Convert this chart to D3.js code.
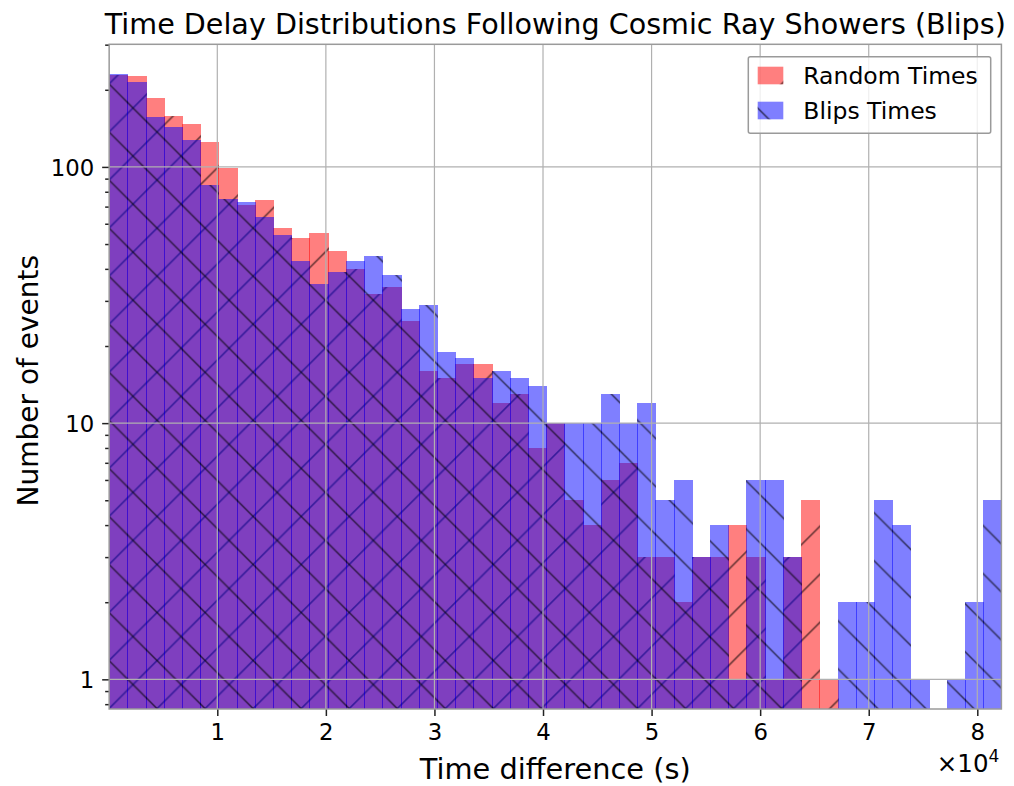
<!DOCTYPE html>
<html><head><meta charset="utf-8">
<script src="https://cdn.jsdelivr.net/npm/d3@7"></script>
<style>body{margin:0;background:#fff} svg{display:block} text{font-family:"DejaVu Sans",sans-serif;fill:#000}</style>
</head><body>
<svg id="chart" width="1014" height="786"></svg>
<script>
// ---------- data ----------
const seriesNames = ["Random Times", "Blips Times"];
const seriesColors = ["#ff0000", "#0000ff"];
const randomCounts = [228,226,186,158,147,125,99,71,74,58,53,55,47,40,32,34,25,16,15,17,17,12,13,8,10,5,4,6,7,3,3,2,3,3,4,3,1,3,5,1,0,0,0,0,0,0,0,0,0];
const blipsCounts  = [230,214,157,143,127,85,75,73,64,54,43,35,39,43,45,38,28,29,19,18,15,16,15,14,10,10,10,13,10,12,5,6,3,4,1,6,6,3,0,0,2,2,5,4,1,0,1,2,5];
const binRange = [40, 82220];
const nBins = 49;
const xTickValues = [10000,20000,30000,40000,50000,60000,70000,80000];
const xTickLabels = ["1","2","3","4","5","6","7","8"];
const yTickValues = [1,10,100];
const yTickLabels = ["1","10","100"];
const yMinorTicks = [0.8,0.9,2,3,4,5,6,7,8,9,20,30,40,50,60,70,80,90,200,300];
const yDomain = [0.766, 301];
const titleText = "Time Delay Distributions Following Cosmic Ray Showers (Blips)";
const xLabelText = "Time difference (s)";
const yLabelText = "Number of events";

// ---------- layout ----------
const plot = {left:109.16, right:1001.4, top:44.3, bottom:709};
const svg = d3.select("#chart");
const x = d3.scaleLinear().domain(binRange).range([plot.left, plot.right]);
const y = d3.scaleLog().domain(yDomain).range([plot.bottom, plot.top]);
const binW = (binRange[1]-binRange[0])/nBins;
const edges = d3.range(nBins+1).map(i => binRange[0] + i*binW);

const defs = svg.append("defs");
defs.append("clipPath").attr("id","plotclip").append("rect")
  .attr("x",plot.left).attr("y",plot.top).attr("width",plot.right-plot.left).attr("height",plot.bottom-plot.top);

const P = 48.05;
function hatch(id, dir, c){
  const p = defs.append("pattern").attr("id",id).attr("patternUnits","userSpaceOnUse")
    .attr("x",0).attr("y",0).attr("width",P).attr("height",P);
  for(let k=-2;k<=2;k++){
    const l = p.append("line");
    if(dir==="back") l.attr("x1",-3).attr("y1",-3+c+k*P).attr("x2",P+3).attr("y2",P+3+c+k*P);
    else l.attr("x1",-3).attr("y1",3+c+k*P).attr("x2",P+3).attr("y2",-P-3+c+k*P);
    l.attr("stroke","#000").attr("stroke-opacity",0.55).attr("stroke-width",1.7);
  }
}
hatch("hatchFwd","fwd",0.8);
hatch("hatchBack","back",23);
const hatchIds = ["hatchFwd","hatchBack"];

// ---------- bars ----------
const barsG = svg.append("g").attr("clip-path","url(#plotclip)");
[randomCounts, blipsCounts].forEach((counts, si) => {
  const g = barsG.append("g");
  const data = counts.map((c,i)=>({c, x0:edges[i], x1:edges[i+1]})).filter(d=>d.c>0);
  data.forEach(d => {
    const xa = Math.round(x(d.x0)), xb = Math.round(x(d.x1));
    const yt = Math.round(y(d.c));
    const r = {x:xa, y:yt, w:xb-xa+1, h:plot.bottom+2-yt};
    g.append("rect").attr("x",r.x).attr("y",r.y).attr("width",r.w).attr("height",r.h)
      .attr("fill",seriesColors[si]).attr("fill-opacity",0.5).attr("shape-rendering","crispEdges");
    g.append("rect").attr("x",r.x).attr("y",r.y).attr("width",r.w).attr("height",r.h)
      .attr("fill",`url(#${hatchIds[si]})`).attr("shape-rendering","crispEdges");
  });
});

// ---------- grid ----------
const gridG = svg.append("g");
xTickValues.forEach(v => gridG.append("line").attr("x1",x(v)).attr("x2",x(v)).attr("y1",plot.top).attr("y2",plot.bottom)
  .attr("stroke","#b0b0b0").attr("stroke-width",1.2));
yTickValues.forEach(v => gridG.append("line").attr("y1",y(v)).attr("y2",y(v)).attr("x1",plot.left).attr("x2",plot.right)
  .attr("stroke","#b0b0b0").attr("stroke-width",1.2));

// ---------- axes ----------
const xAxis = d3.axisBottom(x).tickValues(xTickValues).tickFormat((d,i)=>xTickLabels[i]).tickSize(7).tickPadding(8);
const xg = svg.append("g").attr("transform",`translate(0,${plot.bottom})`).call(xAxis);
const yAxis = d3.axisLeft(y).tickValues(yTickValues).tickFormat((d,i)=>yTickLabels[i]).tickSize(7).tickPadding(8);
const yg = svg.append("g").attr("transform",`translate(${plot.left},0)`).call(yAxis);
const yMinor = d3.axisLeft(y).tickValues(yMinorTicks).tickFormat("").tickSize(4);
const ymg = svg.append("g").attr("transform",`translate(${plot.left},0)`).call(yMinor);
[xg,yg,ymg].forEach(g=>{
  g.select(".domain").remove();
  g.selectAll(".tick line").attr("stroke","#222").attr("stroke-width",1.5);
  g.selectAll(".tick text").attr("font-size",22.8).attr("font-family","DejaVu Sans").attr("fill","#000");
});
xg.selectAll(".tick text").attr("dy","0.72em");
yg.selectAll(".tick text").attr("dy","0.36em");

// spines
svg.append("rect").attr("x",plot.left).attr("y",plot.top).attr("width",plot.right-plot.left).attr("height",plot.bottom-plot.top)
  .attr("fill","none").attr("stroke","#9a9a9a").attr("stroke-width",1.5);

// offset text
const off = svg.append("text").attr("x",plot.right-2).attr("y",772).attr("text-anchor","end").attr("font-size",24.5);
off.append("tspan").text("×10");
off.append("tspan").attr("dy",-10).attr("font-size",17).text("4");

// ---------- labels ----------
svg.append("text").attr("x",(plot.left+plot.right)/2).attr("y",34).attr("text-anchor","middle").attr("font-size",28.6).text(titleText);
svg.append("text").attr("x",(plot.left+plot.right)/2).attr("y",779).attr("text-anchor","middle").attr("font-size",28.8).text(xLabelText);
svg.append("text").attr("transform",`translate(38,${(plot.top+plot.bottom)/2+4}) rotate(-90)`).attr("text-anchor","middle").attr("font-size",28).text(yLabelText);

// ---------- legend ----------
const lg = svg.append("g");
lg.append("rect").attr("x",748.3).attr("y",56.7).attr("width",242.4).attr("height",76.6).attr("rx",2)
  .attr("fill","#fff").attr("fill-opacity",0.8).attr("stroke","#9a9a9a").attr("stroke-width",1.5);
seriesNames.forEach((name,i)=>{
  const yy = 66.7 + i*35;
  lg.append("rect").attr("x",757.7).attr("y",yy).attr("width",25.6).attr("height",17.6)
    .attr("fill",seriesColors[i]).attr("fill-opacity",0.5);
  lg.append("rect").attr("x",757.7).attr("y",yy).attr("width",25.6).attr("height",17.6)
    .attr("fill",`url(#${hatchIds[i]})`);
  lg.append("text").attr("x",803.3).attr("y",yy+17.6).attr("font-size",23.5).text(name);
});
</script>
</body></html>
